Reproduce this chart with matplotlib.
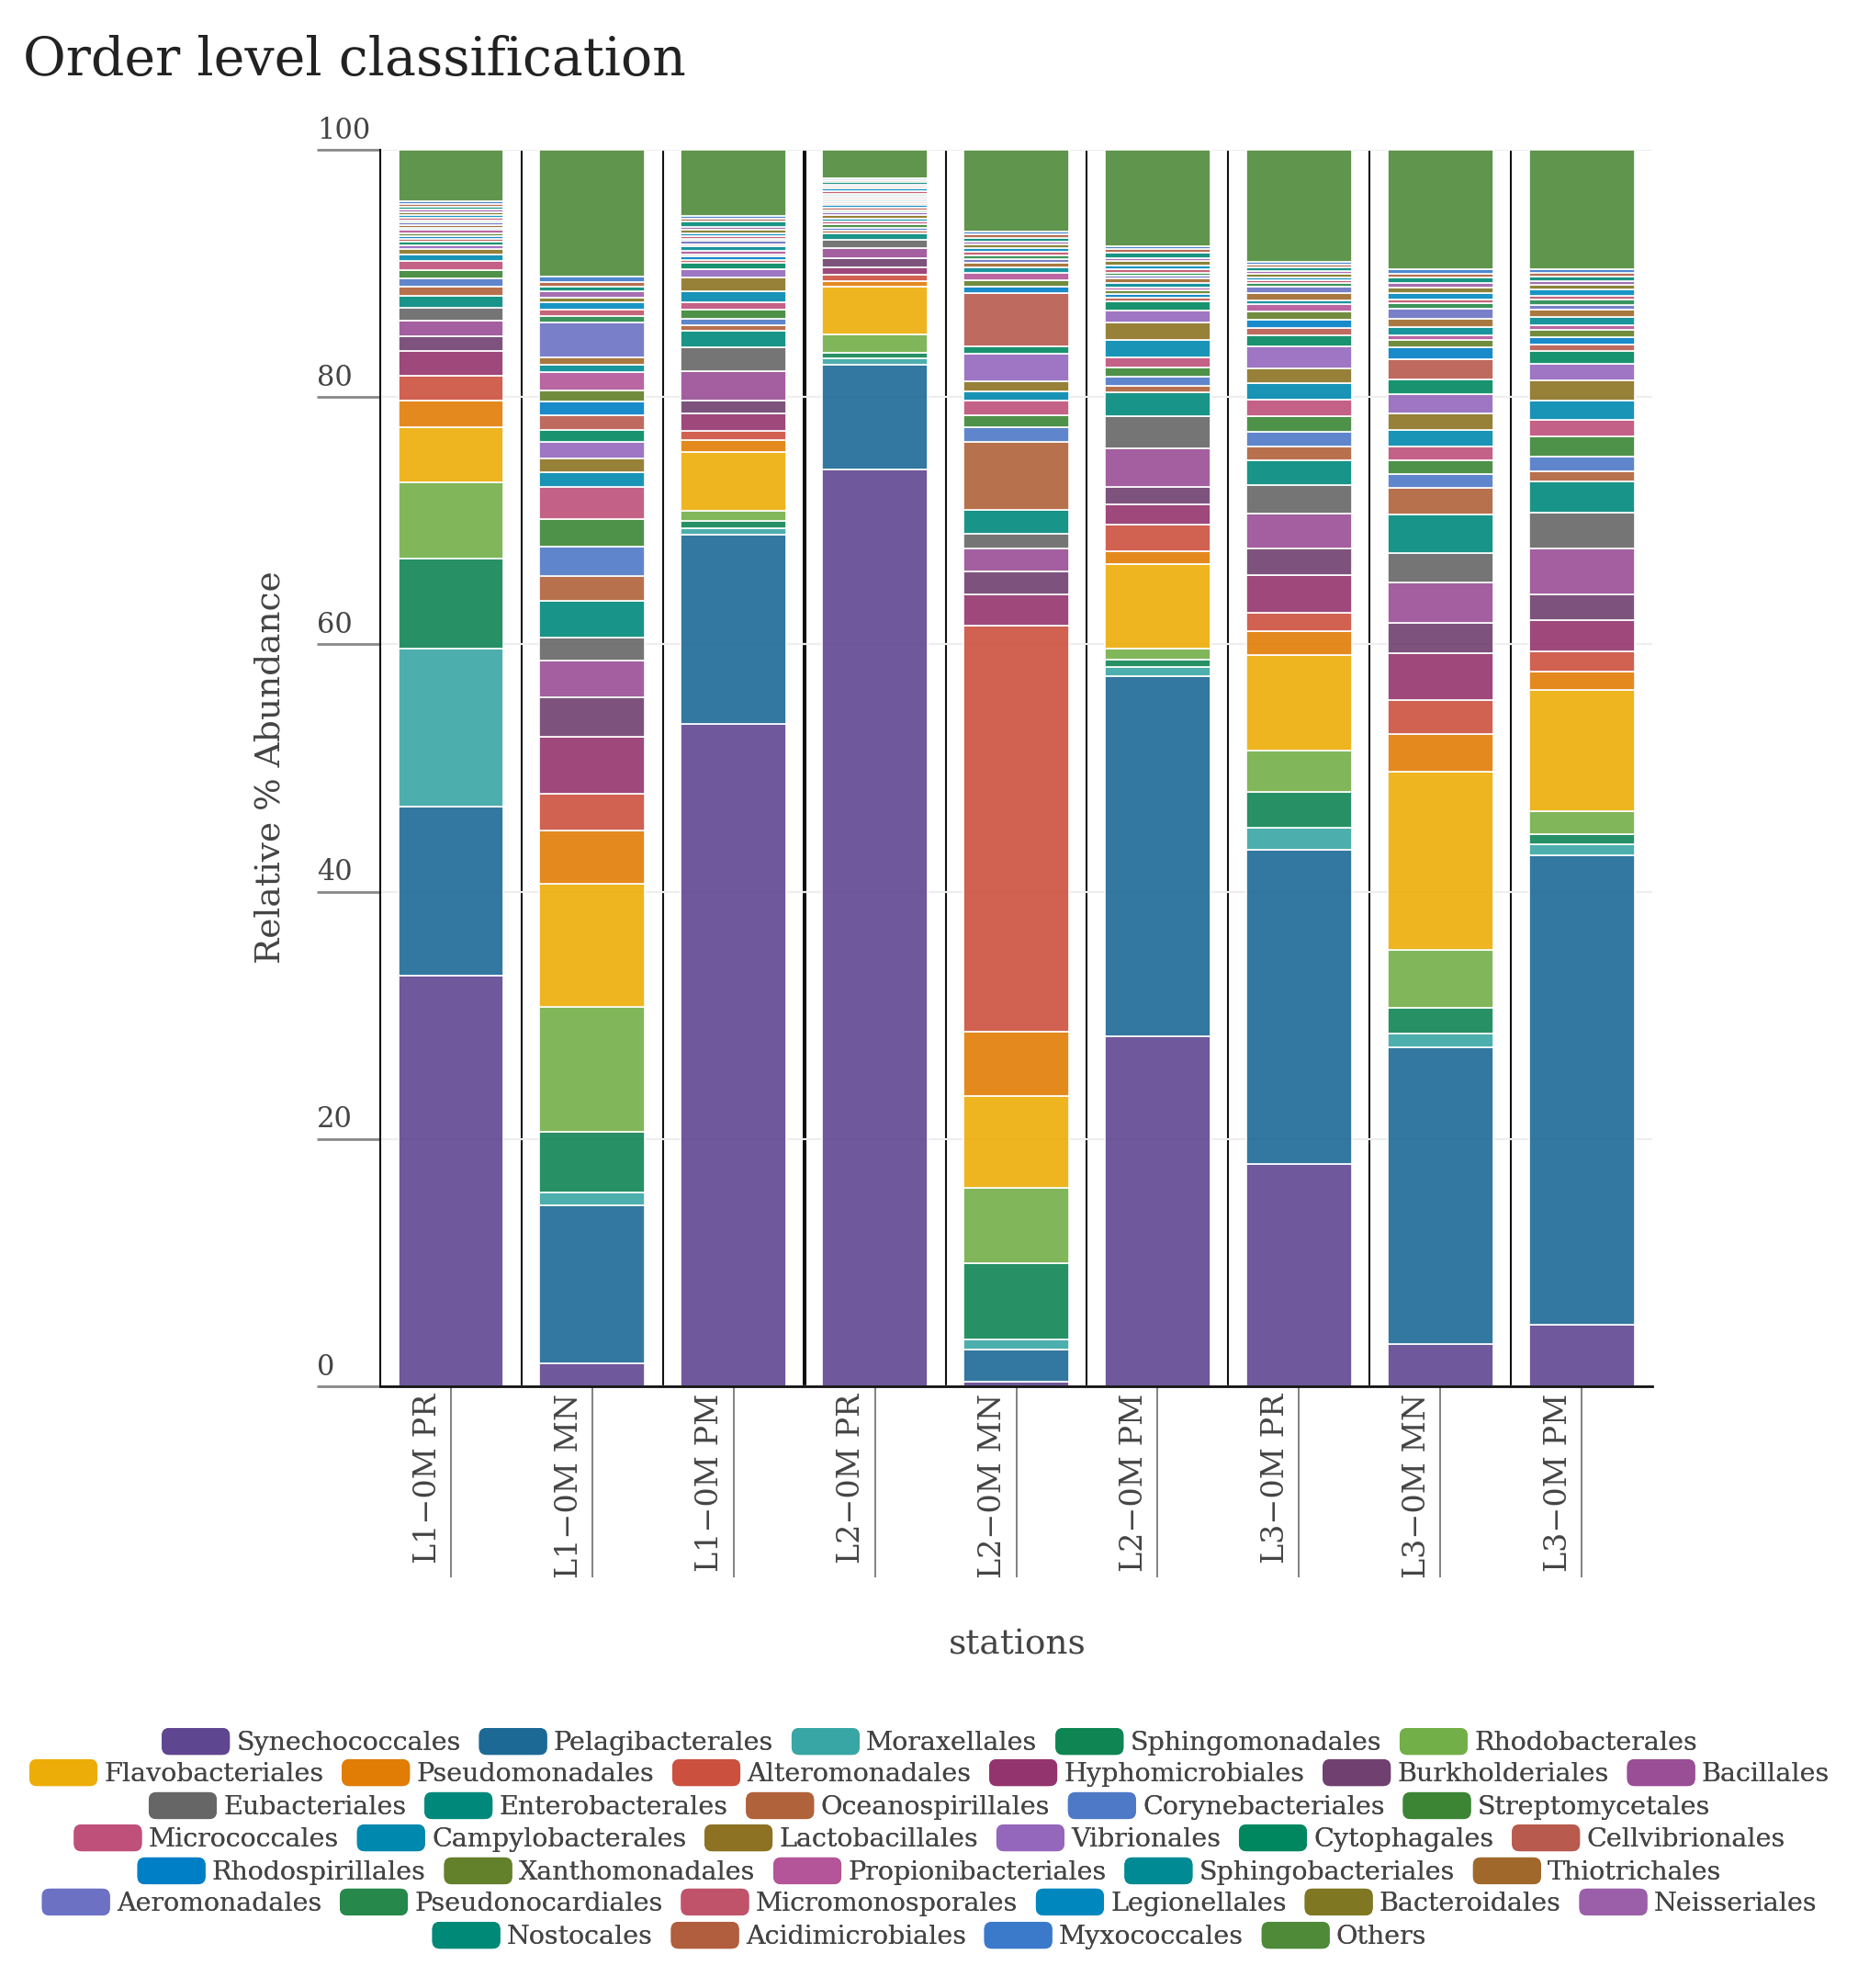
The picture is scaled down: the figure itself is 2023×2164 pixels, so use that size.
import matplotlib

matplotlib.use("Agg")
import matplotlib.pyplot as plt
import matplotlib.transforms as mtransforms
import numpy as np
from matplotlib.colors import to_rgba
from matplotlib.legend_handler import HandlerPatch
from matplotlib.patches import FancyBboxPatch, Patch

plt.rcParams["font.family"] = ["DejaVu Serif"]

STATIONS = ["L1−0M PR", "L1−0M MN", "L1−0M PM", "L2−0M PR", "L2−0M MN",
            "L2−0M PM", "L3−0M PR", "L3−0M MN", "L3−0M PM"]

ORDERS = [
    "Synechococcales", "Pelagibacterales", "Moraxellales", "Sphingomonadales",
    "Rhodobacterales", "Flavobacteriales", "Pseudomonadales", "Alteromonadales",
    "Hyphomicrobiales", "Burkholderiales", "Bacillales", "Eubacteriales",
    "Enterobacterales", "Oceanospirillales", "Corynebacteriales", "Streptomycetales",
    "Micrococcales", "Campylobacterales", "Lactobacillales", "Vibrionales",
    "Cytophagales", "Cellvibrionales", "Rhodospirillales", "Xanthomonadales",
    "Propionibacteriales", "Sphingobacteriales", "Thiotrichales", "Aeromonadales",
    "Pseudonocardiales", "Micromonosporales", "Legionellales", "Bacteroidales",
    "Neisseriales", "Nostocales", "Acidimicrobiales", "Myxococcales", "Others",
]

COLORS = [
    "#5F4690", "#1D6996", "#38A6A5", "#0F8554", "#73AF48", "#EDAD08",
    "#E17C05", "#CC503E", "#94346E", "#6F4070", "#994E95", "#666666",
    "#00897B", "#B0623A", "#4E79C7", "#3B8535", "#BE5079", "#0088AE",
    "#8C7222", "#9467BD", "#00875F", "#B85A4E", "#007FC6", "#63802A",
    "#B35598", "#008A94", "#A0692B", "#6C71C4", "#27884B", "#C0536A",
    "#0088BE", "#7F7722", "#9B5FAA", "#008977", "#B05E3D", "#3B7ACA",
    "#4E8A38",
]

# relative abundance (%) per station, in ORDERS order
L1_PR = [33.2, 13.7, 12.75, 7.3, 6.15, 4.45, 2.15, 2.05, 1.95, 1.25, 1.25, 1.05,
         0.95, 0.75, 0.65, 0.7, 0.7, 0.55, 0.45, 0.3, 0.25, 0.25, 0.2, 0.25,
         0.25, 0.2, 0.2, 0.2, 0.2, 0.2, 0.25, 0.2, 0.2, 0.25, 0.2, 0.2, 4.2]
L1_MN = [1.85, 12.75, 1.05, 4.95, 10.1, 9.95, 4.3, 2.95, 4.65, 3.2, 2.95, 1.85,
         3.0, 1.95, 2.4, 2.2, 2.6, 1.2, 1.15, 1.35, 0.95, 1.15, 1.15, 0.85,
         1.55, 0.55, 0.6, 2.8, 0.55, 0.55, 0.55, 0.4, 0.5, 0.4, 0.37, 0.45, 10.2]
L1_PM = [53.55, 15.3, 0.57, 0.57, 0.8, 4.75, 0.95, 0.75, 1.45, 1.0, 2.4, 1.95,
         1.35, 0.42, 0.5, 0.74, 0.6, 0.94, 1.06, 0.67, 0.54, 0.2, 0.3, 0.2,
         0.25, 0.35, 0.2, 0.25, 0.2, 0.2, 0.25, 0.3, 0.2, 0.45, 0.2, 0.2, 5.4]
L2_PR = [74.15, 8.45, 0.54, 0.42, 1.52, 3.81, 0.45, 0.57, 0.6, 0.7, 0.8, 0.68,
         0.57, 0.2, 0.25, 0.25, 0.25, 0.25, 0.25, 0.2, 0.2, 0.2, 0.2, 0.15,
         0.15, 0.15, 0.15, 0.15, 0.2, 0.2, 0.2, 0.2, 0.15, 0.2, 0.15, 0.15, 2.3]
L2_MN = [0.35, 2.6, 0.86, 6.15, 6.06, 7.43, 5.25, 32.84, 2.53, 1.85, 1.86, 1.19,
         1.93, 5.5, 1.14, 0.99, 1.19, 0.74, 0.79, 2.23, 0.64, 4.31, 0.53, 0.49,
         0.62, 0.42, 0.4, 0.28, 0.28, 0.28, 0.3, 0.28, 0.28, 0.28, 0.27, 0.27, 6.6]
L2_PM = [28.3, 29.15, 0.69, 0.6, 0.94, 6.83, 1.04, 2.11, 1.68, 1.36, 3.15, 2.6,
         1.91, 0.57, 0.69, 0.79, 0.82, 1.41, 1.39, 0.94, 0.79, 0.25, 0.35, 0.25,
         0.25, 0.4, 0.3, 0.25, 0.25, 0.25, 0.35, 0.35, 0.25, 0.45, 0.25, 0.25, 7.75]
L3_PR = [18.0, 25.39, 1.8, 2.9, 3.34, 7.68, 1.98, 1.44, 3.09, 2.16, 2.8, 2.28,
         2.05, 1.11, 1.17, 1.24, 1.36, 1.31, 1.19, 1.83, 0.89, 0.55, 0.72, 0.64,
         0.62, 0.3, 0.56, 0.55, 0.25, 0.25, 0.25, 0.25, 0.25, 0.25, 0.25, 0.25, 9.06]
L3_MN = [3.4, 24.0, 1.12, 2.05, 4.69, 14.43, 3.05, 2.72, 3.79, 2.5, 3.25, 2.4,
         3.09, 2.14, 1.13, 1.14, 1.09, 1.34, 1.34, 1.53, 1.24, 1.63, 0.92, 0.6,
         0.4, 0.7, 0.6, 0.86, 0.44, 0.3, 0.5, 0.45, 0.4, 0.45, 0.3, 0.35, 9.63]
L3_PM = [5.0, 37.97, 0.84, 0.82, 1.9, 9.81, 1.48, 1.62, 2.52, 2.06, 3.76, 2.85,
         2.55, 0.79, 1.19, 1.64, 1.33, 1.59, 1.61, 1.36, 1.06, 0.5, 0.57, 0.6,
         0.37, 0.71, 0.57, 0.4, 0.45, 0.3, 0.5, 0.35, 0.3, 0.4, 0.3, 0.3, 9.63]

Y_TICKS = [0, 20, 40, 60, 80, 100]
LEGEND_ROWS = [5, 6, 5, 6, 5, 6, 4]

TEXT_COLOR = "#444444"


def rounded_swatch(legend, orig_handle, xdescent, ydescent, width, height, fontsize):
    return FancyBboxPatch(
        (-xdescent, -ydescent), width, height,
        boxstyle="round,pad=0,rounding_size=6",
    )


def main() -> None:
    fig = plt.figure(figsize=(20.24, 21.64), dpi=100)
    ax = fig.add_axes([0.2045, 0.3027, 0.6844, 0.622])

    values = np.array([L1_PR, L1_MN, L1_PM, L2_PR, L2_MN, L2_PM, L3_PR, L3_MN, L3_PM])
    x = np.arange(len(STATIONS))
    bottom = np.zeros(len(STATIONS))
    for j, color in enumerate(COLORS):
        heights = values[:, j]
        ax.bar(x, heights, bottom=bottom, width=0.745,
               color=to_rgba(color, 0.9), edgecolor="white", linewidth=1.2,
               zorder=2)
        bottom += heights

    ax.set_xlim(-0.5, len(STATIONS) - 0.5)
    ax.set_ylim(0, 100)

    # separators between stations
    for b in np.arange(0.5, len(STATIONS) - 0.5, 1.0):
        lw = 2.9 if b == 2.5 else 1.5
        ax.axvline(b, color="#111111", linewidth=lw, zorder=0.4)

    ax.set_axisbelow(True)
    ax.set_yticks(Y_TICKS)
    ax.yaxis.grid(True, color="#eeeeee", linewidth=1.6)
    ax.tick_params(axis="y", length=50, width=2, color="#888888", labelleft=False)
    ax.set_xticks(x)
    ax.tick_params(axis="x", length=150, width=1.3, color="#777777", labelbottom=False)

    for side in ["top", "right"]:
        ax.spines[side].set_visible(False)
    ax.spines["left"].set_linewidth(1.5)
    ax.spines["left"].set_color("#111111")
    ax.spines["bottom"].set_linewidth(2.0)
    ax.spines["bottom"].set_color("#111111")

    ytrans = mtransforms.blended_transform_factory(ax.transAxes, ax.transData)
    for v in Y_TICKS:
        ax.text(-0.0498, v + 0.4, str(v), transform=ytrans, ha="left", va="bottom",
                fontsize=22, color=TEXT_COLOR)

    xtrans = mtransforms.blended_transform_factory(ax.transData, ax.transAxes)
    for i, name in enumerate(STATIONS):
        ax.text(i - 0.06, -0.006, name, transform=xtrans, rotation=90,
                ha="right", va="top", fontsize=24, color=TEXT_COLOR)

    fig.text(0.0124, 0.962, "Order level classification", fontsize=41,
             color="#222222", ha="left", va="baseline")
    fig.text(0.1453, 0.614, "Relative % Abundance", rotation=90, fontsize=27,
             color=TEXT_COLOR, ha="center", va="center")
    fig.text(0.5474, 0.1725, "stations", fontsize=27, color=TEXT_COLOR,
             ha="center", va="center")

    # legend: centred rows like the original horizontal legend
    handles = [Patch(facecolor=c, edgecolor="none") for c in COLORS]
    row_y = [0.1238, 0.1081, 0.0915, 0.0753, 0.0587, 0.0430, 0.0263]
    start = 0
    for n, yf in zip(LEGEND_ROWS, row_y):
        leg = fig.legend(
            handles[start:start + n], ORDERS[start:start + n],
            loc="center", bbox_to_anchor=(0.5, yf), ncol=n, frameon=False,
            fontsize=20.5, handlelength=2.6, handleheight=1.2, handletextpad=0.25,
            columnspacing=0.7, borderpad=0, borderaxespad=0, labelcolor=TEXT_COLOR,
            handler_map={Patch: HandlerPatch(patch_func=rounded_swatch)},
        )
        fig.add_artist(leg)
        start += n

    fig.savefig("out.png", dpi=100, facecolor="white")


if __name__ == "__main__":
    main()
